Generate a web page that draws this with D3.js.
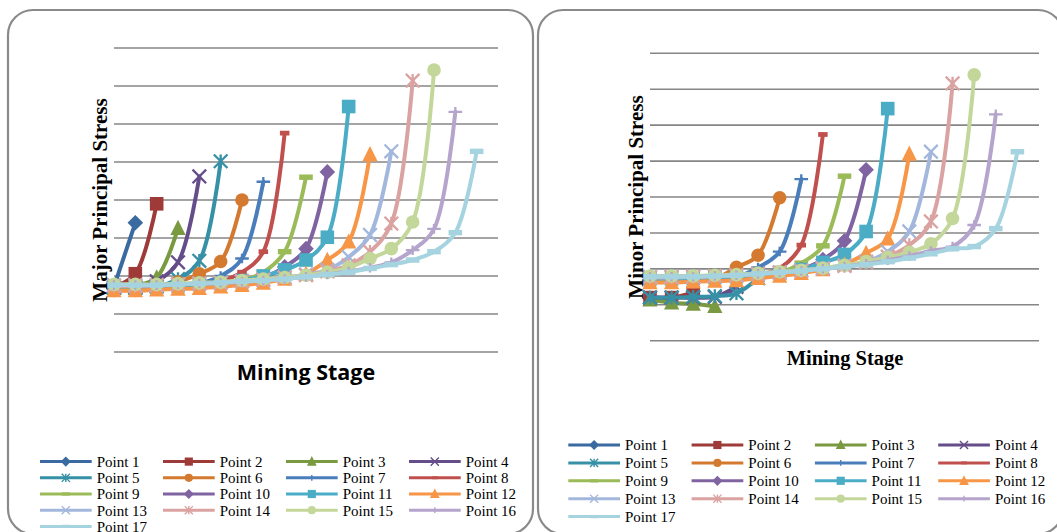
<!DOCTYPE html>
<html>
<head>
<meta charset="utf-8">
<script src="https://cdn.jsdelivr.net/npm/d3@7"></script>
<style>
  body { margin: 0; background: #fff; }
  svg { display: block; }
</style>
</head>
<body>
<svg id="chart" width="1057" height="532"></svg>
<script>
// Mining stages (x categories) and monitoring points (series)
const stages = d3.range(1, 19);
const pointNames = d3.range(1, 18).map(i => "Point " + i);

// Stress value grid (tick labels are hidden on both charts)
const stressTicks = [0, 5, 10, 15, 20, 25, 30, 35, 40];

// Major principal stress per point, one value per mining stage until the point is mined out
const majorStress = [
  [8.6, 17.0],
  [8.5, 10.3, 19.5],
  [8.4, 8.7, 9.8, 16.3],
  [8.5, 8.5, 9.3, 11.8, 23.1],
  [8.5, 8.4, 8.6, 9.6, 12.0, 25.1],
  [8.1, 8.1, 8.3, 9.2, 10.3, 11.9, 20.0],
  [8.4, 8.4, 8.5, 8.7, 9.0, 10.0, 12.3, 22.4],
  [8.4, 8.4, 8.5, 8.6, 8.8, 9.3, 10.5, 13.2, 28.8],
  [8.3, 8.3, 8.4, 8.5, 8.7, 9.0, 9.4, 10.5, 13.2, 23.0],
  [8.4, 8.4, 8.5, 8.6, 8.8, 9.0, 9.3, 9.8, 11.2, 13.6, 23.7],
  [8.5, 8.5, 8.6, 8.7, 8.9, 9.1, 9.4, 10.0, 10.8, 12.1, 15.1, 32.3],
  [8.1, 8.1, 8.2, 8.3, 8.4, 8.6, 8.8, 9.1, 9.6, 10.3, 12.1, 14.5, 26.0],
  [8.8, 8.8, 8.8, 8.9, 9.0, 9.1, 9.3, 9.5, 9.8, 10.2, 10.8, 12.5, 15.4, 26.4],
  [8.7, 8.7, 8.8, 8.9, 9.0, 9.1, 9.3, 9.5, 9.8, 10.1, 10.6, 11.4, 13.2, 16.9, 35.7],
  [8.9, 8.9, 8.9, 9.0, 9.1, 9.2, 9.4, 9.6, 9.8, 10.1, 10.5, 11.1, 12.3, 13.6, 17.1, 37.1],
  [8.8, 8.8, 8.8, 8.9, 9.0, 9.1, 9.2, 9.4, 9.6, 9.9, 10.2, 10.6, 11.1, 11.8, 13.4, 16.2, 31.6],
  [8.8, 8.8, 8.8, 8.9, 9.0, 9.1, 9.3, 9.4, 9.6, 9.9, 10.2, 10.5, 11.0, 11.5, 12.1, 13.2, 15.7, 26.4]
];

// Minor principal stress per point
const minorStress = [
  [5.9, 5.9],
  [6.0, 6.0, 6.7],
  [5.7, 5.3, 5.1, 4.8],
  [6.0, 6.0, 6.0, 6.1, 7.5],
  [6.0, 6.0, 6.1, 6.2, 6.6, 8.7],
  [8.2, 8.2, 8.2, 8.6, 10.2, 11.9, 19.9],
  [8.5, 8.5, 8.6, 8.7, 8.9, 10.2, 12.4, 22.5],
  [8.5, 8.5, 8.6, 8.7, 8.9, 9.2, 10.1, 13.3, 28.7],
  [8.5, 8.5, 8.6, 8.7, 8.9, 9.1, 9.5, 10.8, 13.2, 22.9],
  [8.5, 8.5, 8.6, 8.7, 8.8, 9.0, 9.3, 9.9, 11.3, 13.9, 23.8],
  [8.6, 8.6, 8.7, 8.8, 8.9, 9.1, 9.4, 9.9, 10.9, 12.0, 15.2, 32.3],
  [8.1, 8.1, 8.2, 8.3, 8.4, 8.7, 9.0, 9.4, 9.9, 10.6, 12.2, 14.2, 26.0],
  [8.9, 8.9, 8.9, 9.0, 9.1, 9.3, 9.5, 9.8, 10.1, 10.5, 11.0, 12.4, 15.2, 26.3],
  [8.8, 8.8, 8.9, 9.0, 9.1, 9.3, 9.5, 9.7, 10.0, 10.4, 10.9, 11.7, 13.3, 16.6, 35.8],
  [9.0, 9.0, 9.0, 9.1, 9.2, 9.4, 9.6, 9.8, 10.1, 10.5, 11.0, 11.6, 12.3, 13.5, 17.0, 37.0],
  [8.9, 8.9, 8.9, 9.0, 9.1, 9.3, 9.5, 9.7, 10.0, 10.3, 10.7, 11.2, 11.8, 12.5, 13.1, 16.1, 31.5],
  [8.9, 8.9, 8.9, 9.0, 9.1, 9.3, 9.5, 9.7, 10.0, 10.3, 10.6, 11.0, 11.5, 12.1, 12.8, 13.1, 15.6, 26.3]
];

const pointColors = [
  "#3B6AA0", "#9E3B38", "#7A9A42", "#654D8A", "#3690A6", "#D47A30",
  "#4A7EBB", "#C0504D", "#9BBB59", "#8064A2", "#4BACC6", "#F79646",
  "#A3B7DD", "#DAA3A1", "#C4D79B", "#B5A5CC", "#A5D4E0"
];

const markerKinds = [
  "diamond", "square", "triangle", "x", "star", "circle", "plus", "dot", "dash",
  "diamond", "square", "triangle", "x", "star", "circle", "plus", "dash"
];

const svg = d3.select("#chart");

// Draws one marker glyph centred on the group's origin
function addMarker(g, kind, color, s) {
  const h = 6.8 * s;
  const sw = Math.max(1.4, 2.3 * s);
  switch (kind) {
    case "diamond":
      g.append("path").attr("d", `M0,${-h - 1}L${h + 1},0L0,${h + 1}L${-h - 1},0Z`).attr("fill", color);
      break;
    case "square":
      g.append("rect").attr("x", -h).attr("y", -h).attr("width", 2 * h).attr("height", 2 * h).attr("fill", color);
      break;
    case "triangle":
      g.append("path").attr("d", `M0,${-h - 1.5}L${h + 0.8},${h}L${-h - 0.8},${h}Z`).attr("fill", color);
      break;
    case "circle":
      g.append("circle").attr("r", h).attr("fill", color);
      break;
    case "x":
      g.append("path").attr("d", `M${-h},${-h}L${h},${h}M${-h},${h}L${h},${-h}`)
        .attr("stroke", color).attr("stroke-width", sw).attr("fill", "none");
      break;
    case "star":
      g.append("path").attr("d", `M${-h},${-h}L${h},${h}M${-h},${h}L${h},${-h}M0,${-h}L0,${h}`)
        .attr("stroke", color).attr("stroke-width", sw).attr("fill", "none");
      break;
    case "plus":
      g.append("path").attr("d", `M${-h},0L${h},0M0,${-h * 0.7}L0,${h * 0.7}`)
        .attr("stroke", color).attr("stroke-width", sw).attr("fill", "none");
      break;
    case "dot":
      g.append("rect").attr("x", -h * 0.7).attr("y", -h * 0.35).attr("width", h * 1.4).attr("height", h * 0.7).attr("fill", color);
      break;
    case "dash":
      g.append("rect").attr("x", -h).attr("y", -h * 0.4).attr("width", h * 2).attr("height", h * 0.8).attr("fill", color);
      break;
  }
}

function drawPanel(cfg) {
  const root = svg.append("g");

  // rounded frame
  root.append("rect")
    .attr("x", cfg.frame[0]).attr("y", cfg.frame[1])
    .attr("width", cfg.frame[2]).attr("height", cfg.frame[3])
    .attr("rx", 25).attr("ry", 25)
    .attr("fill", "#fff").attr("stroke", "#8a8a8a").attr("stroke-width", 2.2);

  const x = d3.scaleLinear().domain([stages[0], stages[stages.length - 1] + 1]).range([cfg.plot.x0, cfg.plot.x1]);
  const y = d3.scaleLinear().domain([0, 40]).range([cfg.plot.yBot, cfg.plot.yTop]);

  // horizontal gridlines
  root.append("g").selectAll("line").data(stressTicks).join("line")
    .attr("x1", cfg.plot.x0).attr("x2", cfg.plot.x1)
    .attr("y1", d => y(d)).attr("y2", d => y(d))
    .attr("stroke", "#868686").attr("stroke-width", 1.6);

  const line = d3.line()
    .x((d, i) => x(stages[i]))
    .y(d => y(d))
    .curve(d3.curveCatmullRom.alpha(0.5));

  const seriesG = root.append("g");
  cfg.data.forEach((vals, si) => {
    const g = seriesG.append("g");
    g.append("path").attr("d", line(vals))
      .attr("fill", "none").attr("stroke", pointColors[si])
      .attr("stroke-width", 4).attr("stroke-linejoin", "round").attr("stroke-linecap", "round");
    vals.forEach((v, i) => {
      const m = g.append("g").attr("transform", `translate(${x(stages[i])},${y(v)})`);
      addMarker(m, markerKinds[si], pointColors[si], 1);
    });
  });

  // axis titles
  root.append("text")
    .attr("transform", `translate(${cfg.yTitle[0]},${cfg.yTitle[1]}) rotate(-90)`)
    .attr("text-anchor", "middle")
    .attr("font-family", "'Liberation Serif', 'Times New Roman', serif")
    .attr("font-weight", "bold").attr("font-size", 21)
    .text(cfg.yLabel);

  root.append("text")
    .attr("x", cfg.xTitle[0]).attr("y", cfg.xTitle[1])
    .attr("text-anchor", "middle")
    .attr("font-family", cfg.xTitleFont)
    .attr("font-weight", "bold").attr("font-size", cfg.xTitleSize)
    .text("Mining Stage");

  // legend: four columns
  const lg = root.append("g");
  pointNames.forEach((name, i) => {
    const col = i % 4, row = Math.floor(i / 4);
    const lx = cfg.legend.x0 + col * cfg.legend.colStep;
    const ly = cfg.legend.y0 + row * cfg.legend.rowStep;
    const item = lg.append("g");
    item.append("line").attr("x1", lx).attr("x2", lx + 51.7).attr("y1", ly).attr("y2", ly)
      .attr("stroke", pointColors[i]).attr("stroke-width", 3);
    const m = item.append("g").attr("transform", `translate(${lx + 25.8},${ly})`);
    addMarker(m, markerKinds[i], pointColors[i], 0.6);
    item.append("text").attr("x", lx + 56.7).attr("y", ly + 5.3)
      .attr("font-family", "'Liberation Serif', 'Times New Roman', serif")
      .attr("font-size", 15).attr("fill", "#000")
      .text(name);
  });
}

drawPanel({
  frame: [8, 10, 525, 524],
  plot: { x0: 114, x1: 498, yTop: 48, yBot: 352 },
  data: majorStress,
  yLabel: "Major Principal Stress",
  yTitle: [106.5, 200],
  xTitle: [306, 379.5],
  xTitleFont: "'Open Sans', 'Liberation Sans', sans-serif",
  xTitleSize: 21.5,
  legend: { x0: 40, y0: 461.6, colStep: 123, rowStep: 16.2 }
});

drawPanel({
  frame: [538, 10, 525, 524],
  plot: { x0: 650, x1: 1039, yTop: 53.3, yBot: 340.7 },
  data: minorStress,
  yLabel: "Minor Principal Stress",
  yTitle: [642.5, 197],
  xTitle: [845, 365],
  xTitleFont: "'Liberation Serif', 'Times New Roman', serif",
  xTitleSize: 20.5,
  legend: { x0: 568.3, y0: 445, colStep: 123.3, rowStep: 17.9 }
});
</script>
</body>
</html>
